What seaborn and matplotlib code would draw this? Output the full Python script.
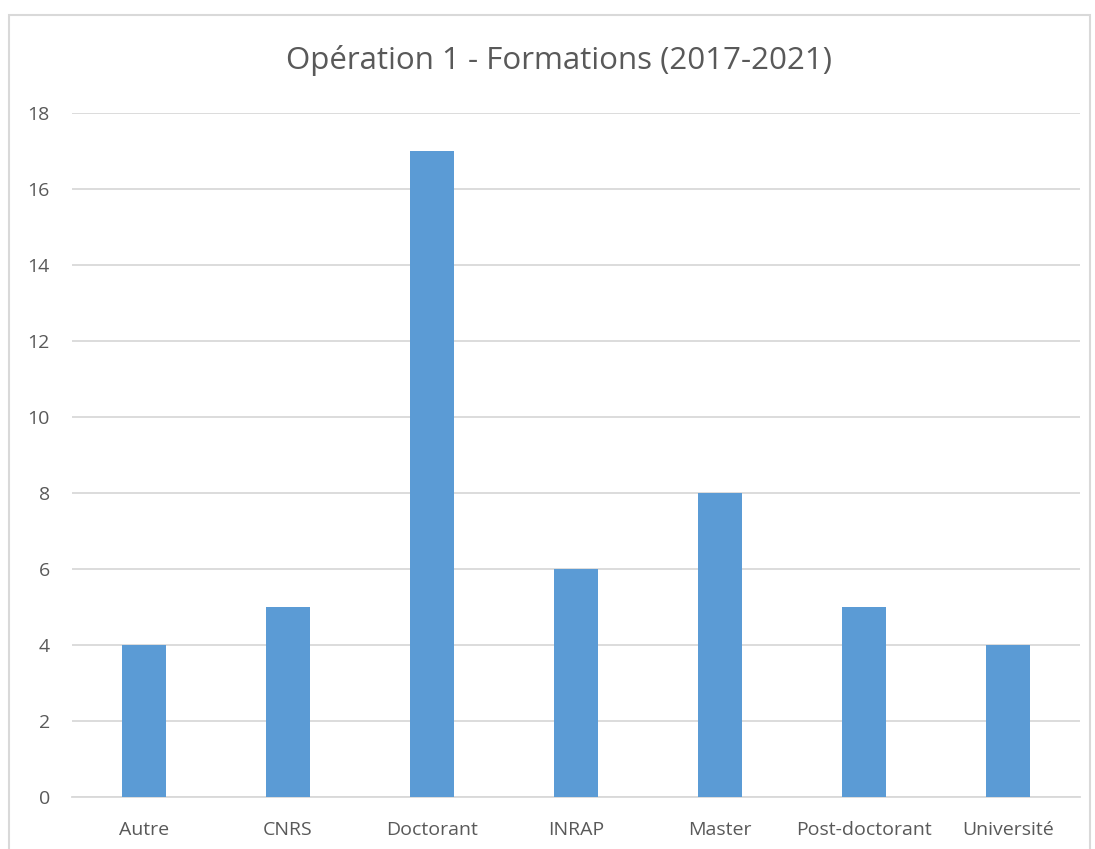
import seaborn as sns
import matplotlib.pyplot as plt
import matplotlib.patches as patches
import pandas as pd

# Chart data
categories = ["Autre", "CNRS", "Doctorant", "INRAP", "Master", "Post-doctorant", "Université"]
counts = [4, 5, 17, 6, 8, 5, 4]

data = pd.DataFrame({"categorie": categories, "effectif": counts})

sns.set_theme(style="white")
plt.rcParams['font.family'] = ['Open Sans', 'DejaVu Sans']

fig = plt.figure(figsize=(10.95, 8.49), dpi=100)
ax = fig.add_axes([72 / 1095, 52 / 849, 1008 / 1095, 684 / 849])

sns.barplot(data=data, x="categorie", y="effectif", color="#5b9bd5",
            width=0.31, saturation=1, linewidth=0, edgecolor="none",
            ax=ax, zorder=3)

ax.set_ylim(0, 18)
ax.set_yticks(range(0, 19, 2))
ax.set_xlim(-0.5, len(categories) - 0.5)
ax.yaxis.grid(True, color="#d9d9d9", linewidth=1.3, zorder=0)
ax.set_axisbelow(True)
for s in ["top", "right", "left"]:
    ax.spines[s].set_visible(False)
ax.spines["bottom"].set_color("#d9d9d9")
ax.spines["bottom"].set_linewidth(1.3)
ax.tick_params(axis="both", length=0, labelsize=14, colors="#595959")
ax.tick_params(axis="y", pad=16)
ax.tick_params(axis="x", pad=17)
ax.set_xlabel("")
ax.set_ylabel("")

fig.text(559 / 1095, 1 - 60 / 849, "Opération 1 - Formations (2017-2021)",
         ha="center", va="center", fontsize=22.5, color="#595959")

# Outer chart border
border = patches.Rectangle((9 / 1095, -0.05), 1081 / 1095, 1.05 - 15 / 849,
                           transform=fig.transFigure, fill=False,
                           edgecolor="#d9d9d9", linewidth=1.5)
fig.patches.append(border)

fig.savefig("out.png", dpi=100)
